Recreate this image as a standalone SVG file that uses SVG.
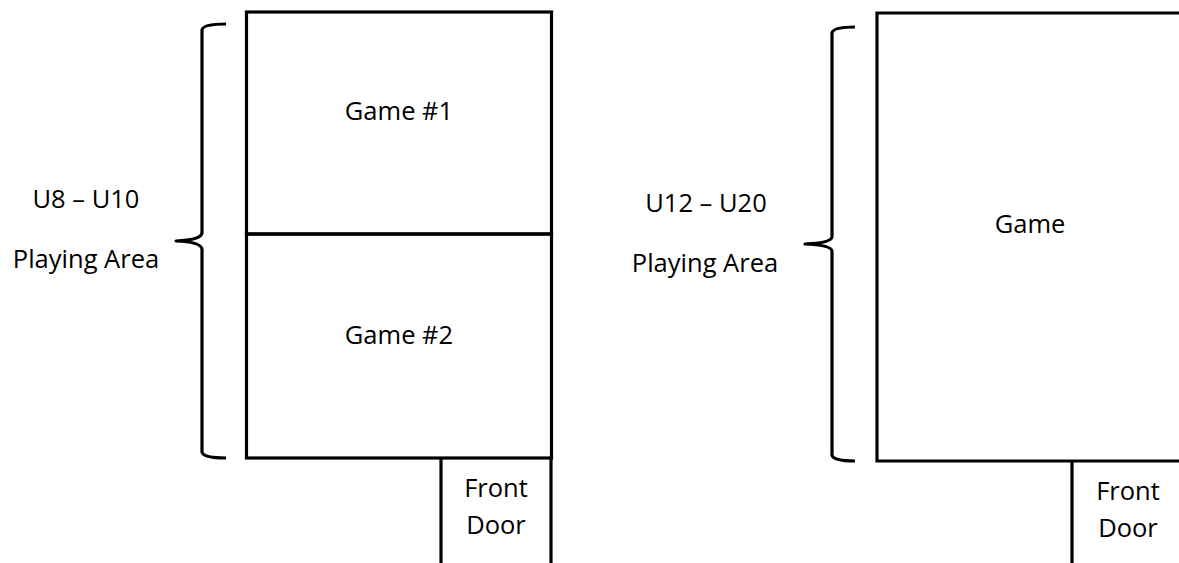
<svg xmlns="http://www.w3.org/2000/svg" width="1179" height="563" viewBox="0 0 1179 563">
<style>
.ln{fill:none;stroke:#000;stroke-width:3.2;stroke-linecap:butt;stroke-linejoin:miter}
.br{fill:none;stroke:#000;stroke-width:3.2;stroke-linecap:butt;stroke-linejoin:round}
.t{font-family:"Open Sans","Noto Sans","Liberation Sans",sans-serif;font-size:25.5px;fill:#000;text-anchor:middle}
</style>
<rect width="1179" height="563" fill="#fff"/>
<g id="left-plan">
  <g id="game1">
    <rect class="ln" x="246.5" y="12" width="305" height="222"/>
    <text class="t" x="399" y="120">Game #1</text>
  </g>
  <g id="game2">
    <rect class="ln" x="246.5" y="234" width="305" height="224"/>
    <text class="t" x="399" y="344">Game #2</text>
  </g>
  <g id="door-left">
    <path class="ln" d="M441,458 V563 M551,458 V563"/>
    <text class="t" x="496" y="497">Front</text>
    <text class="t" x="496" y="534">Door</text>
  </g>
  <g id="brace-left">
    <path class="br" d="M226,24 Q203,24 202,30 L202,233 Q201,240 176,241 Q201,242 202,249 L202,452 Q203,458 226,458"/>
    <text class="t" x="86" y="208">U8 – U10</text>
    <text class="t" x="86" y="268">Playing Area</text>
  </g>
</g>
<g id="right-plan">
  <g id="game">
    <path class="ln" d="M1181,13 H877 V461 H1181"/>
    <text class="t" x="1030" y="233">Game</text>
  </g>
  <g id="door-right">
    <path class="ln" d="M1072,461 V563"/>
    <text class="t" x="1128" y="500">Front</text>
    <text class="t" x="1128" y="537">Door</text>
  </g>
  <g id="brace-right">
    <path class="br" d="M855,27 Q833,27 832,33 L832,237 Q831,243 805,244 Q831,245 832,251 L832,455 Q833,461 855,461"/>
    <text class="t" x="706" y="212">U12 – U20</text>
    <text class="t" x="705" y="272">Playing Area</text>
  </g>
</g>
<g id="connectors"></g>
</svg>
